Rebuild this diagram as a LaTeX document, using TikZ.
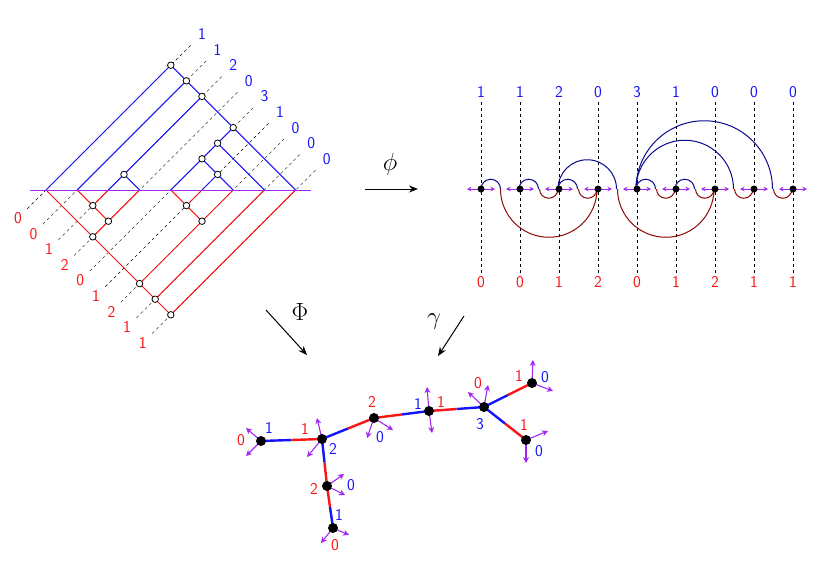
\documentclass[tikz,border=0pt]{standalone}
\usepackage{fontspec}
\usepackage{tikz}
\usetikzlibrary{calc,arrows.meta}
\definecolor{tblue}{RGB}{20,20,250}
\definecolor{tred}{RGB}{250,20,20}
\definecolor{arcblue}{RGB}{10,10,140}
\definecolor{arcred}{RGB}{140,10,10}
\definecolor{legpurple}{RGB}{160,40,240}
\tikzset{
  lbl/.style={font=\sffamily\fontsize{16.5}{18}\selectfont, inner sep=1pt},
  bl/.style={lbl, text=tblue},
  rl/.style={lbl, text=tred},
  ring/.style={circle, draw=black, fill=white, inner sep=0pt, minimum size=6.5pt, line width=0.8pt},
  dot/.style={circle, fill=black, inner sep=0pt, minimum size=7pt},
  bigdot/.style={circle, fill=black, inner sep=0pt, minimum size=10pt},
  leg/.style={legpurple, line width=1.1pt, -{Stealth[length=6pt,width=6pt]}},
  bedge/.style={tblue, line width=2.4pt},
  redge/.style={tred, line width=2.4pt},
  maparrow/.style={-{Stealth[length=9pt,width=7pt]}, line width=1pt},
  maplbl/.style={font=\fontsize{23}{25}\selectfont}
}
\def\treepath{(0,0)--(8,8)--(16,0) (9,7)--(2,0) (10,6)--(3,-1)--(2,0)
  (12,4)--(8,0)--(9,-1) (11,3)--(14,0) (10,2)--(12,0) (11,1)--(9,-1)
  (5,1)--(6,0)--(3,-3) (3,-1)--(4,-2) (0,0)--(8,-8)--(16,0)
  (6,-6)--(12,0) (7,-7)--(14,0) (9,-1)--(10,-2)}
\begin{document}
\begin{tikzpicture}[x=1pt,y=1pt]
\useasboundingbox (0,0) rectangle (830,-587);

%% trees
\begin{scope}[shift={(46,-190)}, x=15.6pt, y=15.6pt]
  \foreach \k/\u/\l in {0/1/0,1/1/0,2/2/1,3/0/2,4/3/0,5/1/1,6/0/2,7/0/1,8/0/1}{
    \draw[dashed, thin] (\k-1.2,-1.2-\k) -- (\k+9.4,9.4-\k);
    \node[bl] at (\k+10.0,10.0-\k) {\u};
    \node[rl] at (\k-1.8,-1.8-\k) {\l};
  }
  \begin{scope}
    \clip (-2,0) rectangle (18,10);
    \draw[tblue, line width=1pt] \treepath;
  \end{scope}
  \begin{scope}
    \clip (-2,0) rectangle (18,-10);
    \draw[tred, line width=1pt] \treepath;
  \end{scope}
  \draw[legpurple, line width=1pt] (-1,0) -- (17,0);
  \foreach \p in {(8,8),(9,7),(10,6),(12,4),(11,3),(10,2),(11,1),(5,1),
                  (3,-1),(4,-2),(3,-3),(9,-1),(10,-2),(6,-6),(7,-7),(8,-8)}
    \node[ring] at \p {};
\end{scope}

%% maps
\draw[maparrow] (365,-189) -- (418,-189);
\node[maplbl] at (390,-164) {$\phi$};
\draw[maparrow] (266,-310) -- (307,-355);
\node[maplbl] at (300,-312) {$\Phi$};
\draw[maparrow] (464,-316) -- (438,-356);
\node[maplbl] at (434,-322) {$\gamma$};

%% arc diagram
\foreach \i/\u/\l in {0/1/0,1/1/0,2/2/1,3/0/2,4/3/0,5/1/1,6/0/2,7/0/1,8/0/1}{
  \draw[dashed, thin] (481+39*\i,-102) -- (481+39*\i,-273);
  \node[bl] at (481+39*\i,-92) {\u};
  \node[rl] at (481+39*\i,-282) {\l};
  \draw[legpurple, line width=0.9pt, {Stealth[length=4.5pt,width=4.5pt]}-{Stealth[length=4.5pt,width=4.5pt]}]
    (467+39*\i,-189) -- (495+39*\i,-189);
}
% above
\draw[arcblue, line width=1pt] (481,-189) arc[start angle=180,end angle=0,radius=9.75pt];
\draw[arcblue, line width=1pt] (519,-189) arc[start angle=180,end angle=0,radius=9.75pt];
\draw[arcblue, line width=1pt] (558,-189) arc[start angle=180,end angle=0,radius=9.75pt];
\draw[arcblue, line width=1pt] (558,-189) arc[start angle=180,end angle=0,radius=29.25pt];
\draw[arcblue, line width=1pt] (636,-189) arc[start angle=180,end angle=0,radius=9.75pt];
\draw[arcblue, line width=1pt] (675,-189) arc[start angle=180,end angle=0,radius=9.75pt];
\draw[arcblue, line width=1pt] (636,-189) arc[start angle=180,end angle=0,radius=48.75pt];
\draw[arcblue, line width=1pt] (636,-189) arc[start angle=180,end angle=0,radius=68.25pt];
% below
\draw[arcred, line width=1pt] (500.5,-189) arc[start angle=180,end angle=360,radius=48.25pt];
\draw[arcred, line width=1pt] (539.5,-189) arc[start angle=180,end angle=360,radius=9.25pt];
\draw[arcred, line width=1pt] (578.5,-189) arc[start angle=180,end angle=360,radius=9.25pt];
\draw[arcred, line width=1pt] (617.5,-189) arc[start angle=180,end angle=360,radius=48.25pt];
\draw[arcred, line width=1pt] (656.5,-189) arc[start angle=180,end angle=360,radius=9.25pt];
\draw[arcred, line width=1pt] (695.5,-189) arc[start angle=180,end angle=360,radius=9.25pt];
\draw[arcred, line width=1pt] (734.5,-189) arc[start angle=180,end angle=360,radius=9.25pt];
\draw[arcred, line width=1pt] (773.5,-189) arc[start angle=180,end angle=360,radius=9.25pt];
\foreach \i in {0,...,8}
  \node[dot] (v\i) at (481+39*\i,-189) {};

%% graph
\coordinate (n1) at (261,-441);
\coordinate (n2) at (322,-439);
\coordinate (n3) at (374,-418);
\coordinate (n4) at (429,-411);
\coordinate (n5) at (484,-407);
\coordinate (n6) at (532,-383);
\coordinate (n7) at (526,-440);
\coordinate (n8) at (327,-486);
\coordinate (n9) at (333,-528);
\foreach \a/\b in {n1/n2,n2/n3,n4/n3,n5/n4,n5/n6,n5/n7,n2/n8,n9/n8}{
  \draw[bedge] (\a) -- ($(\a)!0.5!(\b)$);
  \draw[redge] ($(\a)!0.5!(\b)$) -- (\b);
}
\foreach \n/\dx/\dy in {n1/-15/13,n1/-15/-15,n2/-5/21,n2/-15/-18,n3/-7/-20,n3/19/-12,
  n4/-2/24,n4/3/-22,n5/-16/15,n5/4/22,n6/1/23,n6/21/-8,n7/22/9,n7/0/-23,
  n8/17/12,n8/18/-9,n9/-12/-15,n9/16/-7}
  \draw[leg] (\n) -- ++(\dx,\dy);
\foreach \n in {n1,n2,n3,n4,n5,n6,n7,n8,n9}
  \node[bigdot] at (\n) {};
\node[rl] at (241,-440) {0};  \node[bl] at (269,-428) {1};
\node[rl] at (305,-429) {1};  \node[bl] at (333,-449) {2};
\node[rl] at (372,-402) {2};  \node[bl] at (380,-437) {0};
\node[bl] at (418,-404) {1};  \node[rl] at (441,-402) {1};
\node[rl] at (478,-383) {0};  \node[bl] at (480,-424) {3};
\node[rl] at (519,-376) {1};  \node[bl] at (545,-377) {0};
\node[rl] at (524,-425) {1};  \node[bl] at (539,-451) {0};
\node[rl] at (314,-489) {2};  \node[bl] at (351,-485) {0};
\node[bl] at (339,-515) {1};  \node[rl] at (335,-545) {0};
\end{tikzpicture}
\end{document}
